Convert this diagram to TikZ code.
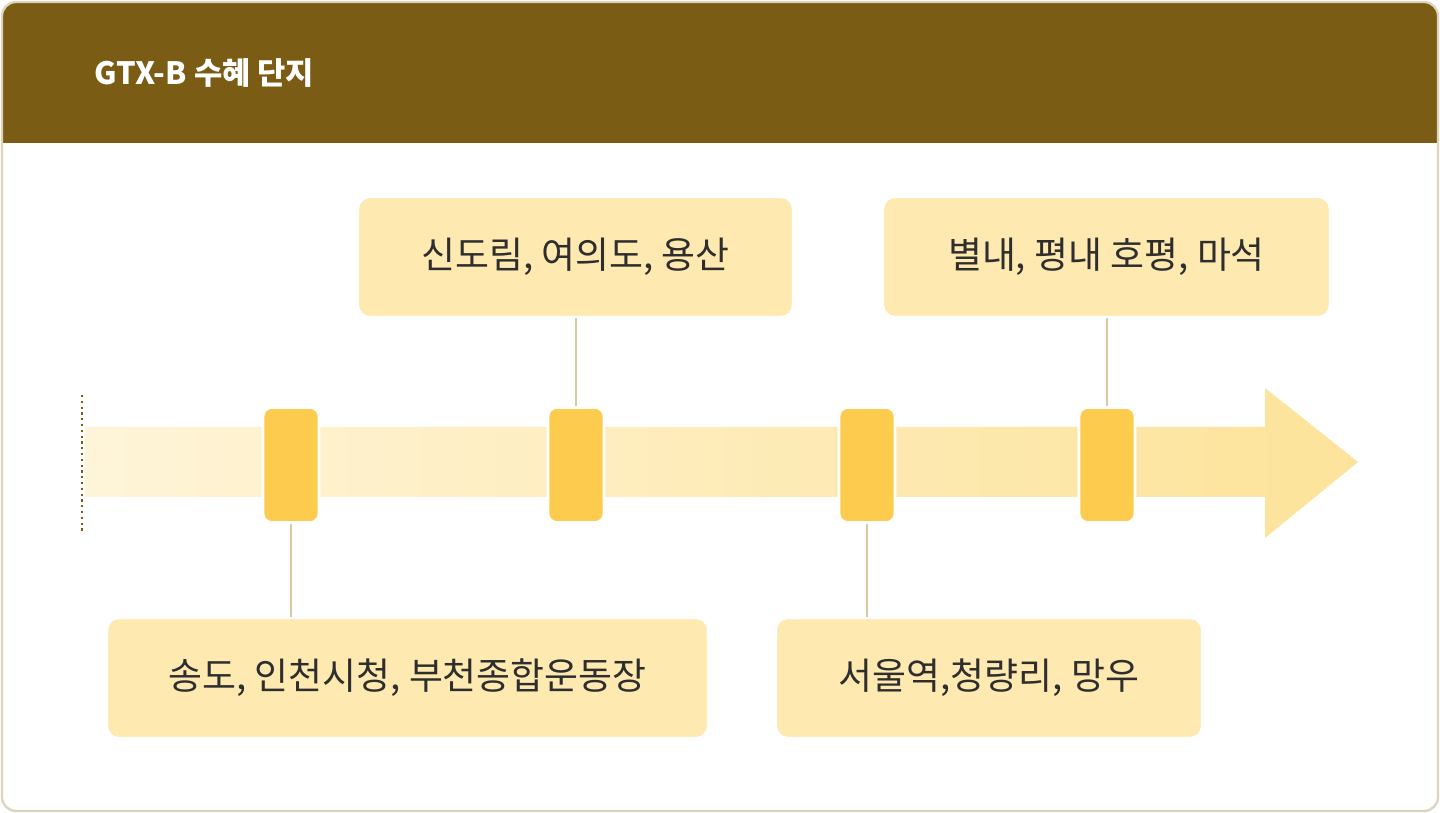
\documentclass[tikz,border=0pt]{standalone}
\usepackage{fontspec}
\setmainfont{Noto Sans CJK KR}
\usepackage{xcolor}
\usetikzlibrary{arrows.meta, positioning, calc}
\definecolor{headbrown}{HTML}{7A5C14}
\definecolor{frameline}{HTML}{DDD5BB}
\definecolor{markgold}{HTML}{FDCB4D}
\definecolor{boxfill}{HTML}{FEE9B0}
\definecolor{bandlight}{HTML}{FEF4D8}
\definecolor{banddark}{HTML}{FDE39A}
\definecolor{stemline}{HTML}{D9C8A0}
\definecolor{textdark}{HTML}{2E2E2E}

\begin{document}
\begin{tikzpicture}[
		x=0.02cm, y=-0.02cm,
		font=\fontsize{21}{25}\selectfont,
		stationbox/.style={
			draw=white,
			line width=1.2pt,
			rounded corners=2.4mm,
			fill=boxfill,
			text=textdark,
			minimum height=2.4cm,
			inner sep=0pt
		},
		marker/.style={
			draw=white,
			line width=1.5pt,
			rounded corners=1.8mm,
			fill=markgold,
			minimum width=1.12cm,
			minimum height=2.3cm,
			inner sep=0pt
		},
		stem/.style={stemline,line width=1.1pt}
	]
	
	% frame and header
	\useasboundingbox (0,0) rectangle (1440,813);
	\fill[white,rounded corners=2.8mm] (2,2) rectangle (1438,811);
	\begin{scope}
		\clip[rounded corners=2.8mm] (2,2) rectangle (1438,811);
		\fill[headbrown] (0,0) rectangle (1440,143);
	\end{scope}
	\draw[frameline,line width=1.3pt,rounded corners=2.8mm] (2,2) rectangle (1438,811);
	\node[anchor=west,text=white,font=\fontsize{17.5}{20}\selectfont\bfseries] (title) at (88,73) {GTX-B 수혜 단지};
	
	% timeline band
	\shade[left color=bandlight,right color=banddark] (85,427) -- (1265,427) -- (1265,388) -- (1358,462) -- (1265,538) -- (1265,497) -- (85,497) -- cycle;
	\draw[headbrown,line width=1.3pt,dotted] (82,395) -- (82,532);
	
	% markers
	\node[marker] (m1) at (291,465) {};
	\node[marker] (m2) at (576,465) {};
	\node[marker] (m3) at (867,465) {};
	\node[marker] (m4) at (1107,465) {};
	
	% station boxes
	\node[stationbox,minimum width=8.7cm] (b2) at (575.5,257) {신도림, 여의도, 용산};
	\node[stationbox,minimum width=8.94cm] (b4) at (1106.5,257) {별내, 평내 호평, 마석};
	\node[stationbox,minimum width=12.02cm] (b1) at (407.5,678) {송도, 인천시청, 부천종합운동장};
	\node[stationbox,minimum width=8.52cm] (b3) at (989,678) {서울역,청량리, 망우};
	
	% stems
	\draw[stem] (m1.south) -- (m1.south |- b1.north);
	\draw[stem] (m2.north) -- (m2.north |- b2.south);
	\draw[stem] (m3.south) -- (m3.south |- b3.north);
	\draw[stem] (m4.north) -- (m4.north |- b4.south);
	
\end{tikzpicture}
\end{document}
